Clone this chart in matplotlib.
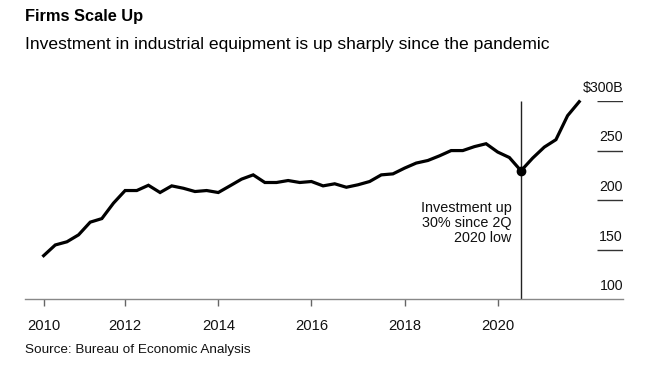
import matplotlib
matplotlib.use("Agg")
import matplotlib.pyplot as plt

plt.rcParams['font.family'] = ['Liberation Sans', 'DejaVu Sans']

# quarterly investment, $B, Q1 2010 .. Q3 2021 (quarter ends)
quarters = [2010.25 + 0.25 * i for i in range(47)]
invest = [144, 154.8, 158, 165, 177.8, 181.4, 197, 209.7, 209.7, 215,
          207.7, 214.4, 212, 208.7, 209.7, 207.7, 214.4, 221.2, 225.5, 217.8,
          217.8, 219.8, 217.8, 218.8, 214.4, 216.5, 213, 215.5, 218.8, 225.5,
          226.5, 232.3, 237.4, 240, 244.7, 250, 250, 254, 256.9, 248.5,
          243, 229.6, 242.4, 253.5, 261, 285.2, 299.3]
low_idx = 41

xticks = [2010.25, 2012, 2014, 2016, 2018, 2020]
xtick_labels = ['2010', '2012', '2014', '2016', '2018', '2020']
yticks = [100, 150, 200, 250, 300]
ytick_labels = ['100', '150', '200', '250', '$300B']

fig = plt.figure(figsize=(6.61, 3.84), dpi=100)
ax = fig.add_axes([25/661, 1 - 299.3/384, (623 - 25)/661, (299.3 - 101)/384])
ax.set_xlim(2009.85, 2022.69)
ax.set_ylim(100, 300)

ax.plot(quarters, invest, color='black', lw=2.3, solid_joinstyle='miter',
        clip_on=False, zorder=3)
ax.plot(quarters[low_idx], invest[low_idx], 'o', color='black', ms=6, zorder=4)
ax.vlines(quarters[low_idx], 100, 300, color='#222222', lw=1, zorder=2)

ax.annotate('Investment up\n30% since 2Q\n2020 low', xy=(quarters[low_idx], 176.8),
            xytext=(-7, 0), textcoords='offset points', ha='right', va='center',
            multialignment='right', fontsize=10.4, linespacing=1.12, color='#111111')

# y gridlines: short segments on the right with labels above them
for v, lab in zip(yticks, ytick_labels):
    if v > 100:
        ax.hlines(v, 0.9565, 1.0, transform=ax.get_yaxis_transform(),
                  color='#333333', lw=1)
    ax.annotate(lab, xy=(1.0, v), xycoords=ax.get_yaxis_transform(),
                xytext=(0, 9.5), textcoords='offset points',
                ha='right', va='center', fontsize=10.2, color='#111111')

for s in ['top', 'right', 'left']:
    ax.spines[s].set_visible(False)
ax.spines['bottom'].set_color('#888888')
ax.spines['bottom'].set_linewidth(1)
ax.set_yticks([])
ax.set_xticks(xticks)
ax.set_xticklabels(xtick_labels, fontsize=10.6, color='#111111')
ax.tick_params(axis='x', length=5, width=1, color='#666666', pad=9)

fig.text(25/661, 1 - 17/384, 'Firms Scale Up', fontsize=11.8, fontweight='bold',
         ha='left', va='center', color='black')
fig.text(25/661, 1 - 45/384,
         'Investment in industrial equipment is up sharply since the pandemic',
         fontsize=12.6, ha='left', va='center', color='black')
fig.text(25/661, 1 - 350/384, 'Source: Bureau of Economic Analysis', fontsize=9.7,
         ha='left', va='center', color='#111111')

fig.savefig('out.png', dpi=100)
